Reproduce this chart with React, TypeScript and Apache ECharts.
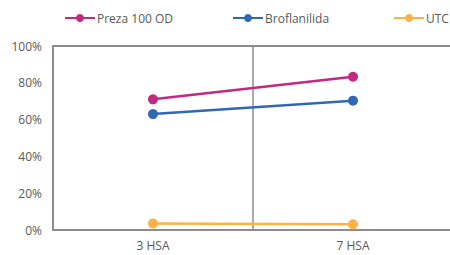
import React, { useEffect, useRef } from "react";
import * as echarts from "echarts";

const categories = ["3 HSA", "7 HSA"];
const preza = [0.71, 0.833];
const broflanilida = [0.63, 0.703];
const utc = [0.036, 0.031];
const yTicks = [0, 0.2, 0.4, 0.6, 0.8, 1.0];

const FONT = "'Open Sans', 'Noto Sans', sans-serif";
const AXIS_GREY = "#8c8c8c";

export default function App() {
  const ref = useRef<HTMLDivElement>(null);
  useEffect(() => {
    const chart = echarts.init(ref.current!, undefined, { renderer: "svg" });
    const mkLegend = (name: string, left: number) => ({
      data: [name],
      left,
      top: 7,
      itemWidth: 30,
      itemHeight: 10,
      itemGap: 4,
      textStyle: { color: "#595959", fontSize: 12, fontFamily: FONT, padding: [0, 0, 0, -3] },
    });
    chart.setOption({
      animation: false,
      legend: [mkLegend("Preza 100 OD", 59), mkLegend("Broflanilida", 227), mkLegend("UTC", 388)],
      grid: {
        left: 53,
        top: 46,
        width: 400,
        height: 184,
        show: false,
        containLabel: false,
        outerBoundsMode: "none",
      },
      xAxis: [
        {
          type: "category",
          data: categories,
          boundaryGap: true,
          axisLine: { lineStyle: { color: AXIS_GREY, width: 2 } },
          axisTick: { show: false },
          splitLine: { show: true, lineStyle: { color: AXIS_GREY, width: 1.5 } },
          axisLabel: { color: "#595959", fontSize: 12, fontFamily: FONT, margin: 9 },
        },
        {
          type: "category",
          data: categories,
          position: "top",
          axisLine: { show: true, lineStyle: { color: AXIS_GREY, width: 2 } },
          axisTick: { show: false },
          axisLabel: { show: false },
          splitLine: { show: false },
        },
      ],
      yAxis: {
        type: "value",
        min: 0,
        max: 1,
        interval: 0.2,
        axisLine: { show: true, lineStyle: { color: AXIS_GREY, width: 2 } },
        axisTick: { show: false },
        splitLine: { show: false },
        axisLabel: {
          color: "#595959",
          fontSize: 12,
          fontFamily: FONT,
          margin: 11,
          formatter: (v: number) => (yTicks.some((t) => Math.abs(t - v) < 1e-9) ? Math.round(v * 100) + "%" : ""),
        },
      },
      series: [
        { name: "Preza 100 OD", data: preza, color: "#C2297F" },
        { name: "Broflanilida", data: broflanilida, color: "#3069B3" },
        { name: "UTC", data: utc, color: "#FDB147" },
      ].map((s) => ({
        type: "line",
        name: s.name,
        data: s.data,
        symbol: "circle",
        symbolSize: 10,
        itemStyle: { color: s.color },
        lineStyle: { color: s.color, width: 2.5 },
        z: 3,
      })),
    });
    return () => chart.dispose();
  }, []);
  return (
    <div style={{ width: 450, height: 255, position: "absolute", left: 0, top: 0, overflow: "hidden" }}>
      <div ref={ref} style={{ width: 470, height: 255 }} />
    </div>
  );
}
